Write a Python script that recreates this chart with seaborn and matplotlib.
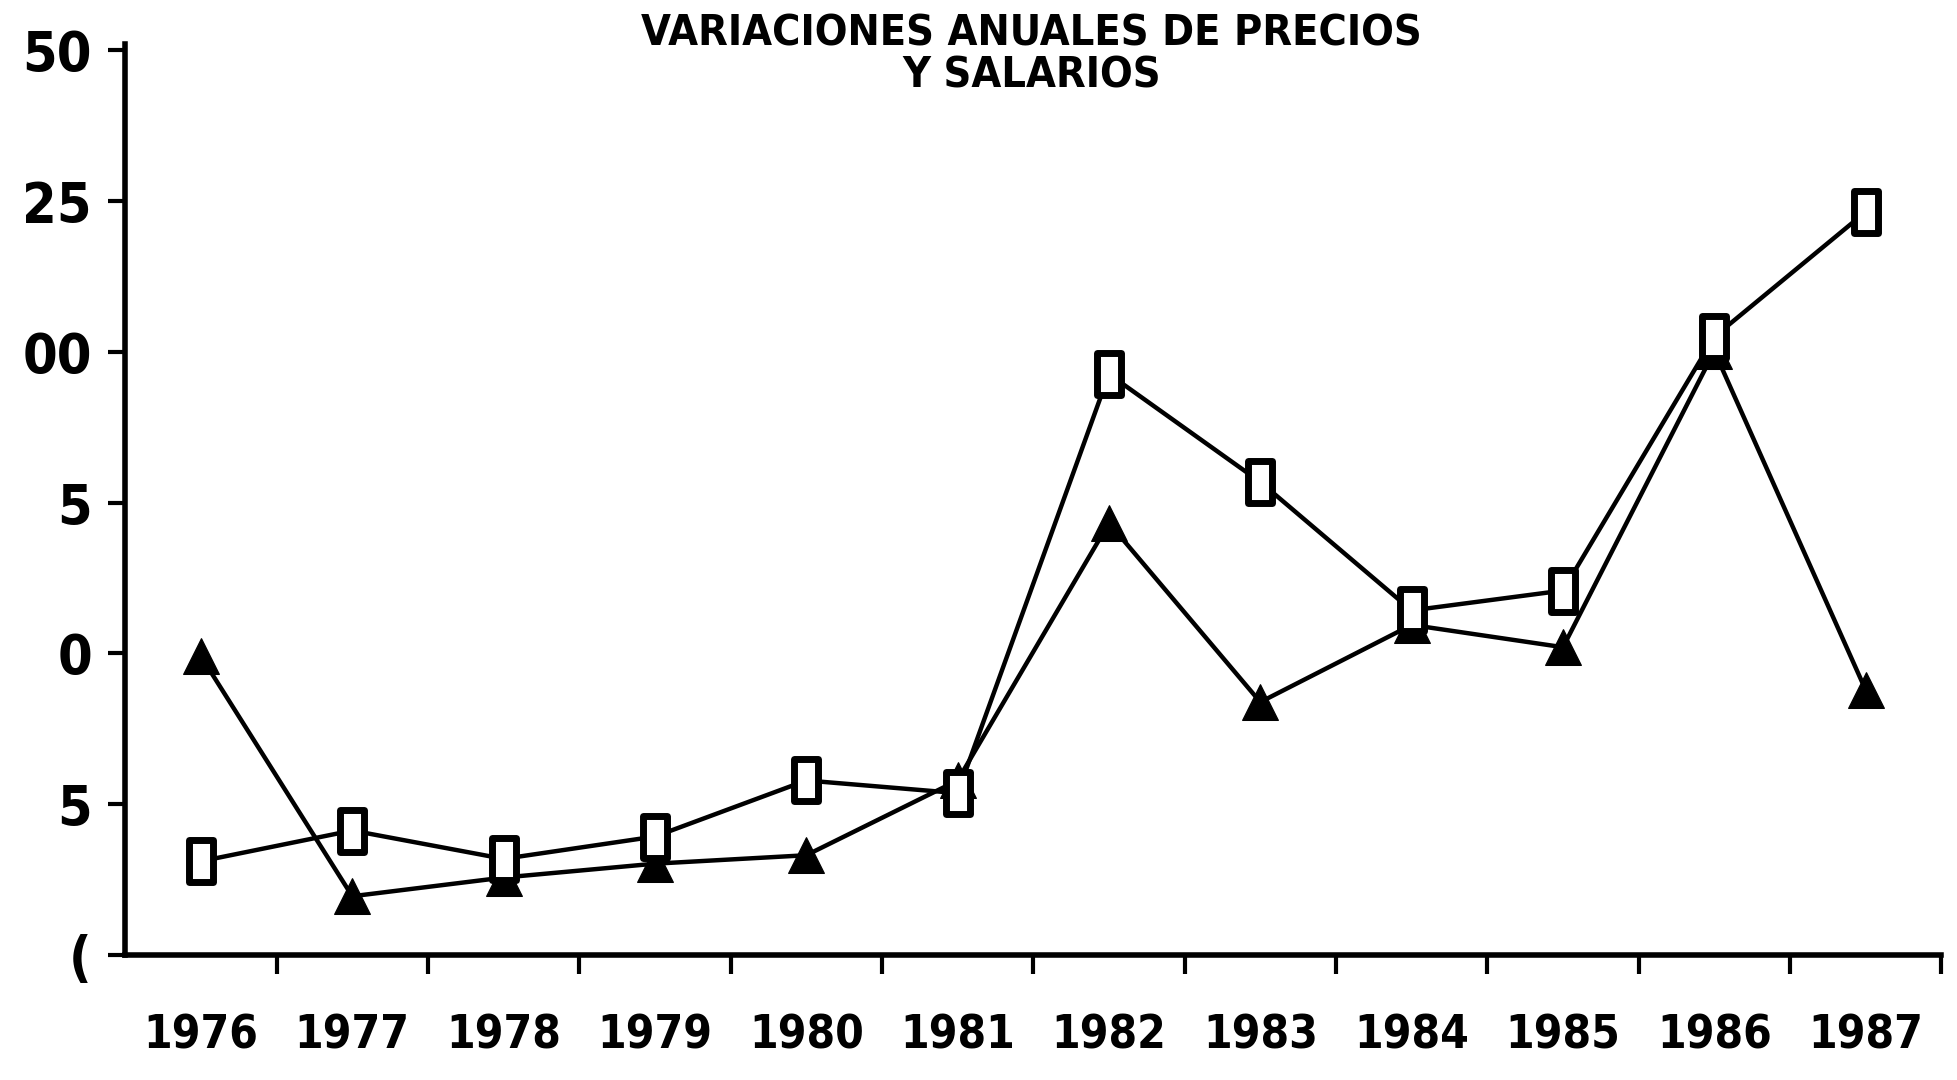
import numpy as np
import pandas as pd
import seaborn as sns
import matplotlib.pyplot as plt
from matplotlib.path import Path

# Data
years = [1976, 1977, 1978, 1979, 1980, 1981, 1982, 1983, 1984, 1985, 1986, 1987]
serie_cuadros = [15.5, 20.6, 15.9, 19.6, 28.9, 26.8, 96.3, 78.4, 57.1, 60.4, 102.5, 123.2]
serie_triangulos = [49.5, 9.7, 12.8, 15.1, 16.5, 28.9, 71.6, 41.9, 54.7, 51.0, 100.1, 43.9]
ytick_vals = [0, 25, 50, 75, 100, 125, 150]
ytick_text = ["(", "5", "0", "5", "00", "25", "50"]  # labels as they survive on the scan
title_text = "VARIACIONES ANUALES DE PRECIOS\nY SALARIOS"

sns.set_style("ticks")
plt.rcParams['font.family'] = ['DejaVu Sans']
plt.rcParams['font.stretch'] = 'condensed'
plt.rcParams['font.weight'] = 'bold'
plt.rcParams['text.color'] = 'black'
plt.rcParams['xtick.color'] = 'black'
plt.rcParams['ytick.color'] = 'black'
plt.rcParams['axes.edgecolor'] = 'black'

df = pd.DataFrame({"year": years, "cuadros": serie_cuadros, "triangulos": serie_triangulos})

fig = plt.figure(figsize=(19.57, 10.80), dpi=100)
ax = fig.add_axes([0.064, 0.116, 0.928, 0.843])

# tall rectangle marker like the printer's squares
rect = Path([(-0.3, -0.5), (0.3, -0.5), (0.3, 0.5), (-0.3, 0.5), (-0.3, -0.5)],
            [Path.MOVETO, Path.LINETO, Path.LINETO, Path.LINETO, Path.CLOSEPOLY])

sns.lineplot(data=df, x="year", y="triangulos", ax=ax, color="black", linewidth=3.2,
             marker="^", markersize=26, markerfacecolor="black", markeredgecolor="black")
sns.lineplot(data=df, x="year", y="cuadros", ax=ax, color="black", linewidth=3.2,
             marker=rect, markersize=30, markerfacecolor="white",
             markeredgecolor="black", markeredgewidth=5)

ax.set_xlim(1975.5, 1987.5)
ax.set_ylim(0, 151)
sns.despine(ax=ax)
ax.spines['left'].set_linewidth(4)
ax.spines['bottom'].set_linewidth(4)

# ticks on the year boundaries, labels at the year centres
ax.set_xticks(np.arange(1976.5, 1988, 1))
ax.set_xticklabels([])
ax.set_xticks(years, minor=True)
ax.set_xticklabels([str(y) for y in years], minor=True, fontsize=33,
                   fontweight='bold', fontstretch='condensed')
ax.tick_params(axis='x', which='major', length=14, width=3, direction='out')
ax.tick_params(axis='x', which='minor', length=0, pad=42)

ax.set_yticks(ytick_vals)
ax.set_yticklabels(ytick_text, fontsize=40, fontweight='bold', fontstretch='condensed')
ax.tick_params(axis='y', length=12, width=3, direction='out', pad=12)

ax.set_xlabel("")
ax.set_ylabel("")

fig.text(0.527, 0.988, title_text, ha='center', va='top', fontsize=31,
         fontweight='bold', fontstretch='condensed', linespacing=1.0)

fig.savefig("out.png", dpi=100)
plt.close()
